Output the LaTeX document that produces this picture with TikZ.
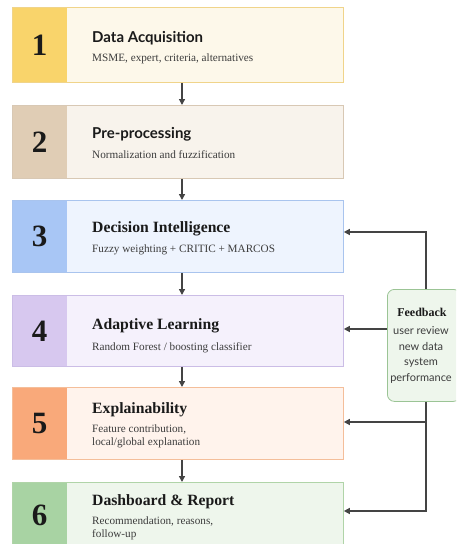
\documentclass[tikz,border=0pt]{standalone}
\usepackage{fontspec}
\setmainfont{Liberation Serif}
\newfontfamily\lato{Lato}
\usetikzlibrary{arrows.meta,calc}

\definecolor{yS}{HTML}{F9D46B}\definecolor{yB}{HTML}{FDF8EA}\definecolor{yL}{HTML}{F0D48A}
\definecolor{tS}{HTML}{E0CDB5}\definecolor{tB}{HTML}{F8F3EC}\definecolor{tL}{HTML}{D8C8B4}
\definecolor{bS}{HTML}{A8C6F5}\definecolor{bB}{HTML}{EEF4FE}\definecolor{bL}{HTML}{A9C4EE}
\definecolor{pS}{HTML}{D7C8EF}\definecolor{pB}{HTML}{F5F1FC}\definecolor{pL}{HTML}{CBBDE6}
\definecolor{oS}{HTML}{F9A97A}\definecolor{oB}{HTML}{FFF3EC}\definecolor{oL}{HTML}{F4BE9A}
\definecolor{gS}{HTML}{A8D3A3}\definecolor{gB}{HTML}{EEF6EC}\definecolor{gL}{HTML}{B0D4A8}
\definecolor{fL}{HTML}{9BC495}
\definecolor{ink}{HTML}{1A1A1A}
\definecolor{wire}{HTML}{444444}

\tikzset{
  stage/.style n args={3}{draw=#3, fill=#2, line width=0.8pt, rectangle,
    anchor=north west, minimum width=331pt, inner sep=0pt,
    path picture={\fill[#1] (path picture bounding box.north west)
      rectangle ([xshift=55pt]path picture bounding box.south west);}},
  num/.style={font=\fontsize{31}{31}\selectfont\bfseries, text=ink, inner sep=0pt},
  sanstitle/.style={font=\lato\fontsize{15}{17}\selectfont\bfseries, text=ink, anchor=base west, inner sep=0pt},
  seriftitle/.style={font=\fontsize{15.7}{18}\selectfont\bfseries, text=ink, anchor=base west, inner sep=0pt},
  desc/.style={font=\fontsize{11.2}{13}\selectfont, text=ink!85, anchor=base west, inner sep=0pt, align=left},
  flow/.style={draw=wire, line width=1.3pt, -{Triangle[length=6pt,width=6pt]}},
  fbbox/.style={draw=fL, fill=gB, line width=0.8pt, rounded corners=7pt, anchor=north west,
    minimum width=73pt, minimum height=112pt, inner sep=0pt},
}

\begin{document}
\begin{tikzpicture}[x=1pt,y=-1pt]
\useasboundingbox (0,0) rectangle (456,544);
\clip (0,0) rectangle (456,544);

% stage boxes
\node[stage={yS}{yB}{yL}, minimum height=75pt] (b1) at (12,7) {};
\node[stage={tS}{tB}{tL}, minimum height=73pt] (b2) at (12,105) {};
\node[stage={bS}{bB}{bL}, minimum height=72pt] (b3) at (12,200) {};
\node[stage={pS}{pB}{pL}, minimum height=71pt] (b4) at (12,295) {};
\node[stage={oS}{oB}{oL}, minimum height=72pt] (b5) at (12,387) {};
\node[stage={gS}{gB}{gL}, minimum height=75pt] (b6) at (12,482) {};

% step numbers
\node[num] (n1) at ([xshift=27.5pt]b1.west) {1};
\node[num] (n2) at ([xshift=27.5pt]b2.west) {2};
\node[num] (n3) at ([xshift=27.5pt]b3.west) {3};
\node[num] (n4) at ([xshift=27.5pt]b4.west) {4};
\node[num] (n5) at ([xshift=27.5pt]b5.west) {5};
\node[num] at (39.5,515) (n6) {6};

% titles and descriptions (multi-line ones sit on their last baseline)
\node[sanstitle] (t1) at (92,42) {Data Acquisition};
\node[desc] (d1) at (92,61) {MSME, expert, criteria, alternatives};
\node[sanstitle] (t2) at (92,138) {Pre-processing};
\node[desc] (d2) at (92,158) {Normalization and fuzzification};
\node[seriftitle] (t3) at (92,232) {Decision Intelligence};
\node[desc] (d3) at (92,252) {Fuzzy weighting + CRITIC + MARCOS};
\node[seriftitle] (t4) at (92,329) {Adaptive Learning};
\node[desc] (d4) at (92,350) {Random Forest / boosting classifier};
\node[seriftitle] (t5) at (92,413) {Explainability};
\node[desc] (d5) at (92,445) {Feature contribution,\\local/global explanation};
\node[seriftitle] (t6) at (92,505) {Dashboard \& Report};
\node[desc] (d6) at (92,537) {Recommendation, reasons,\\follow-up};

% main flow
\draw[flow] (b1.south -| 182,0) -- (b2.north -| 182,0);
\draw[flow] (b2.south -| 182,0) -- (b3.north -| 182,0);
\draw[flow] (b3.south -| 182,0) -- (b4.north -| 182,0);
\draw[flow] (b4.south -| 182,0) -- (b5.north -| 182,0);
\draw[flow] (b5.south -| 182,0) -- (b6.north -| 182,0);

% feedback box
\node[fbbox] (fb) at (387,289) {};
\node[font=\fontsize{12}{13}\selectfont\bfseries, text=ink, anchor=base, inner sep=0pt] (fbt) at (422,316) {Feedback};
\node[font=\lato\fontsize{11}{15.5}\selectfont, text=ink!85, anchor=base, inner sep=0pt, align=center] (fbd) at (421,381)
  {user review\\new data\\system\\performance};

% feedback loops
\coordinate (up) at (426,232);
\coordinate (dn) at (426,511);
\draw[flow] (fb.north -| up) -- (up) -- (b3.east |- up);
\draw[flow] (fb.west |- 0,329) -- (b4.east |- 0,329);
\draw[flow] (fb.south -| dn) -- (dn) -- (b6.east |- dn);
\draw[flow] (426,422) -- (b5.east |- 0,422);
\end{tikzpicture}
\end{document}
